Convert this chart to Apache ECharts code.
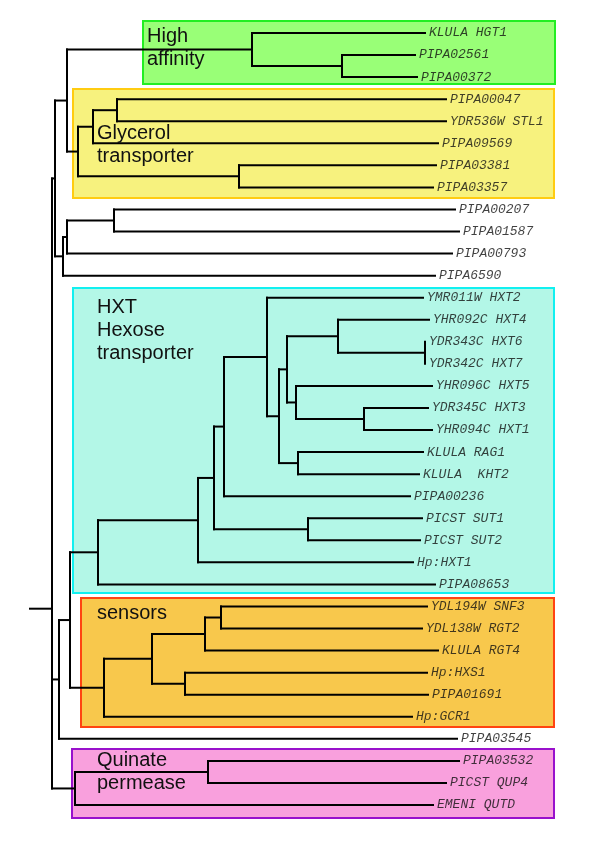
<!DOCTYPE html>
<html><head><meta charset="utf-8">
<script src="https://cdn.jsdelivr.net/npm/echarts@6/dist/echarts.min.js"></script>
<style>html,body{margin:0;padding:0;background:#fff}#c{width:600px;height:849px}</style>
</head><body><div id="c"></div>
<script>
// Leaves, top to bottom
const leafNames = [
  'KLULA HGT1','PIPA02561','PIPA00372',
  'PIPA00047','YDR536W STL1','PIPA09569','PIPA03381','PIPA03357',
  'PIPA00207','PIPA01587','PIPA00793','PIPA6590',
  'YMR011W HXT2','YHR092C HXT4','YDR343C HXT6','YDR342C HXT7','YHR096C HXT5',
  'YDR345C HXT3','YHR094C HXT1','KLULA RAG1','KLULA  KHT2','PIPA00236',
  'PICST SUT1','PICST SUT2','Hp:HXT1','PIPA08653',
  'YDL194W SNF3','YDL138W RGT2','KLULA RGT4','Hp:HXS1','PIPA01691','Hp:GCR1',
  'PIPA03545',
  'PIPA03532','PICST QUP4','EMENI QUTD'
];
// Cumulative depth of each leaf tip (branch length scale)
const tipDepth = [
  425,415,417,
  446,446,438,436,433,
  455,459,452,435,
  423,429,425,425,432,
  428,432,423,419,410,
  422,420,413,435,
  427,422,438,427,428,412,
  457,
  459,446,433
];
// Internal nodes: [depth, child, child, ...]; plain numbers are leaf indices
const treeHigh = [252, 0, [342, 1, 2]];
const treeGlycerol = [78, [93, [117, 3, 4], 5], [239, 6, 7]];
const treeOther = [63, [67, [114, 8, 9], 10], 11];
const treeHXT = [98, [198, [214, [224, [267, 12, [279, [287, [338, 13, [425, 14, 15]], [296, 16, [364, 17, 18]]], [298, 19, 20]]], 21], [308, 22, 23]], 24], 25];
const treeSensors = [104, [152, [205, [221, 26, 27], 28], [185, 29, 30]], 31];
const treeQuinate = [75, [208, 33, 34], 35];
const tree = [52, [55, [67, treeHigh, treeGlycerol], treeOther], [59, [70, treeHXT, treeSensors], 32], treeQuinate];
const rootStub = [30, 26.1]; // [depth of stub start, leaf-position of root]

// Highlighted groups
const groupNames = ['High\naffinity', 'Glycerol\ntransporter', 'HXT\nHexose\ntransporter', 'sensors', 'Quinate\npermease'];
const groupLeft = [143, 73, 73, 81, 72];
const groupRight = [555, 554, 554, 554, 554];
const groupFrom = [-0.54, 2.54, 11.56, 25.62, 32.46];
const groupTo = [2.31, 7.48, 25.39, 31.46, 35.59];
const groupFill = ['#99FF77', '#F7F27E', '#B3F7E7', '#F8C84C', '#F9A0DD'];
const groupStroke = ['#22EE22', '#FFCC11', '#11F0F0', '#FF4411', '#9911CC'];
const groupLabelPos = [[147, 25], [97, 122], [97, 296], [97, 602], [97, 749]];

// ---- build segments from the tree ----
const segments = [];
function walk(node, parentDepth) {
  if (typeof node === 'number') {
    segments.push([parentDepth, node, tipDepth[node], node]);
    return node;
  }
  const d = node[0];
  const ys = node.slice(1).map(c => walk(c, d));
  const lo = Math.min(...ys), hi = Math.max(...ys);
  segments.push([d, lo, d, hi]);
  const y = (lo + hi) / 2;
  if (parentDepth != null) segments.push([parentDepth, y, d, y]);
  return y;
}
walk(tree, null);
segments.push([rootStub[0], rootStub[1], tree[0], rootStub[1]]);

const boxData = groupNames.map((n, i) => [groupLeft[i], groupFrom[i], groupRight[i], groupTo[i], i]);
const leafData = leafNames.map((n, i) => [tipDepth[i], i, n]);

const chart = echarts.init(document.getElementById('c'), null, {renderer: 'canvas'});
chart.setOption({
  animation: false,
  backgroundColor: '#fff',
  grid: {left: 0, right: 0, top: 33, bottom: 44},
  xAxis: {type: 'value', min: 0, max: 600, show: false},
  yAxis: {type: 'value', min: 0, max: 35, inverse: true, show: false},
  graphic: groupNames.map((n, i) => ({
    type: 'text', x: groupLabelPos[i][0], y: groupLabelPos[i][1], z: 50,
    style: {text: n, font: '20px "Liberation Sans", Arial, sans-serif', fill: '#111',
            lineHeight: 23, verticalAlign: 'top'}
  })),
  series: [
    {
      type: 'custom', z: 1, silent: true,
      data: boxData,
      renderItem: function (params, api) {
        const p1 = api.coord([api.value(0), api.value(1)]);
        const p2 = api.coord([api.value(2), api.value(3)]);
        const i = api.value(4);
        return {type: 'rect', shape: {x: p1[0], y: p1[1], width: p2[0] - p1[0], height: p2[1] - p1[1]},
          style: {fill: groupFill[i], stroke: groupStroke[i], lineWidth: 2}};
      }
    },
    {
      type: 'custom', z: 5, silent: true,
      data: segments,
      renderItem: function (params, api) {
        const p1 = api.coord([api.value(0), api.value(1)]);
        const p2 = api.coord([api.value(2), api.value(3)]);
        return {type: 'line', shape: {x1: p1[0], y1: p1[1], x2: p2[0], y2: p2[1]},
          style: {stroke: '#000', lineWidth: 2, lineCap: 'square'}};
      }
    },
    {
      type: 'scatter', z: 6, silent: true,
      data: leafData, symbolSize: 0,
      label: {show: true, position: 'right', distance: 4,
        formatter: p => p.data[2],
        fontFamily: '"Liberation Mono", monospace', fontStyle: 'italic', fontSize: 13, color: '#111'}
    }
  ]
});
</script>
</body></html>
